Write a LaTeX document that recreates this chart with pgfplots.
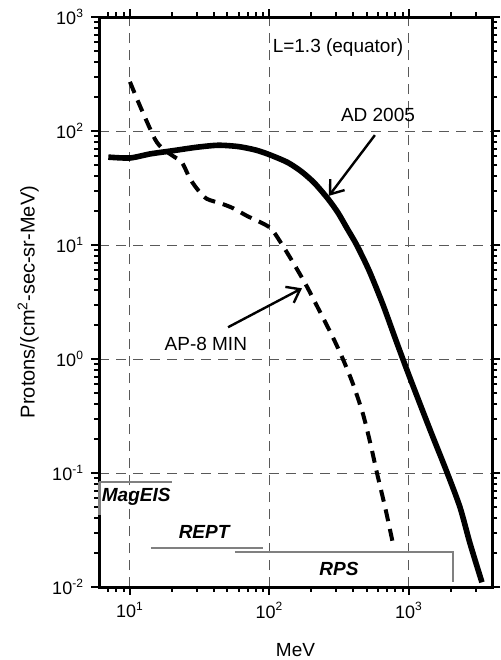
\documentclass[border=0pt]{standalone}
\usepackage{fontspec}
\setmainfont{Liberation Sans}
\usepackage{pgfplots}
\pgfplotsset{compat=1.18}
\usetikzlibrary{arrows.meta}
\begin{document}
\begin{tikzpicture}[x=0.5pt,y=0.5pt,font=\fontsize{9.5pt}{11pt}\selectfont]
\useasboundingbox (0,0) rectangle (501,660);
\begin{axis}[
  at={(49.5pt,36.5pt)}, anchor=south west,
  scale only axis, width=196.5pt, height=285pt,
  xmode=log, ymode=log,
  xmin=6, xmax=3940, ymin=0.01, ymax=1000,
  xtick={10,100,1000},
  xticklabels={10\textsuperscript{1},10\textsuperscript{2},10\textsuperscript{3}},
  ytick={0.01,0.1,1,10,100,1000},
  yticklabels={10\textsuperscript{-2},10\textsuperscript{-1},10\textsuperscript{0},10\textsuperscript{1},10\textsuperscript{2},10\textsuperscript{3}},
  minor xtick={7,8,9,20,30,40,50,60,70,80,90,200,300,400,500,600,700,800,900,2000,3000},
  minor ytick={0.02,0.03,0.04,0.05,0.06,0.07,0.08,0.09,0.2,0.3,0.4,0.5,0.6,0.7,0.8,0.9,2,3,4,5,6,7,8,9,20,30,40,50,60,70,80,90,200,300,400,500,600,700,800,900},
  tick align=outside,
  major tick length=4pt, minor tick length=2.5pt,
  tick style={black, line width=1pt},
  axis line style={line width=1.5pt},
  xmajorgrids, ymajorgrids,
  major grid style={black!65, line width=0.5pt, dash pattern=on 5pt off 3.5pt},
  tick label style={font=\fontsize{9pt}{10pt}\selectfont},
  clip=false,
]
% AD 2005
\addplot[black, line width=2.8pt, smooth, tension=0.45] coordinates {
(7,59) (10,58) (14,63) (20,67) (30,72) (43,75) (60,73) (80,68) (100,62)
(135,53) (170,44) (210,35) (263,25.4) (310,19.2) (360,14.0) (424,9.9)
(520,5.9) (651,3.0) (800,1.5) (1000,0.72) (1410,0.243) (1870,0.102)
(2323,0.05) (2735,0.0243) (3336,0.011)};
% AP-8 MIN
\addplot[black, line width=2pt, dash pattern=on 6pt off 4pt, smooth, tension=0.45] coordinates {
(10,270) (11.8,166) (15.1,85) (17.3,69.5) (20.5,60) (23.6,53) (27,38) (31,30)
(35.6,25.4) (45.6,23) (55,21) (69,18) (100,14.3) (120,10.6) (150,6.8)
(186,4.3) (242,2.3) (285,1.55) (336,1.0) (398,0.6) (468,0.33)
(530,0.18) (590,0.1) (680,0.048) (767,0.0242)};
% instrument ranges
\addplot[gray, line width=0.8pt] coordinates {(20,0.0834) (6,0.0834)};
\addplot[gray, line width=1.5pt] coordinates {(6,0.0834) (6,0.043)};
\addplot[gray, line width=0.8pt] coordinates {(14.1,0.022) (90,0.022)};
\addplot[gray, line width=0.8pt] coordinates {(56.6,0.0203) (2065,0.0203) (2065,0.011)};
\node[anchor=west, inner sep=0pt, font=\fontsize{9.5pt}{11pt}\selectfont\bfseries\itshape] at (axis cs:6.25,0.062) {MagEIS};
\node[font=\fontsize{9.5pt}{11pt}\selectfont\bfseries\itshape] at (axis cs:34,0.0303) {REPT};
\node[font=\fontsize{9.5pt}{11pt}\selectfont\bfseries\itshape] at (axis cs:315,0.0144) {RPS};
% annotations
\node at (axis cs:310,535) {L=1.3 (equator)};
\node at (axis cs:600,138) {AD 2005};
\node at (axis cs:35,1.35) {AP-8 MIN};
\draw[line width=1.2pt, -{Straight Barb[length=6pt,width=9pt,line width=1.2pt]}] (axis cs:570,92) -- (axis cs:267,27);
\draw[line width=1.2pt, -{Straight Barb[length=6pt,width=9pt,line width=1.2pt]}] (axis cs:50.5,1.9) -- (axis cs:171,4.17);
% axis labels
\node at (rel axis cs:0.5,-0.11) {MeV};
\node[rotate=90, font=\fontsize{10pt}{12pt}\selectfont] at (rel axis cs:-0.18,0.5) {Protons/(cm\textsuperscript{2}-sec-sr-MeV)};
\end{axis}
\end{tikzpicture}
\end{document}
